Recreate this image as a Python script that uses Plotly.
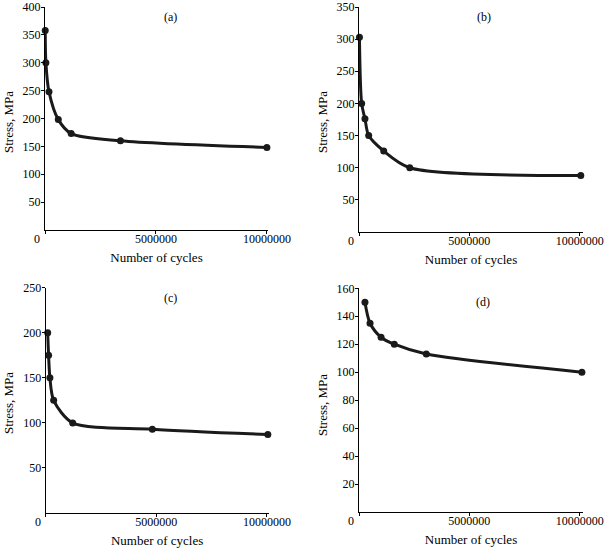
import plotly.graph_objects as go
from plotly.subplots import make_subplots

# Data
cycles_a = [10000, 40000, 180000, 600000, 1180000, 3400000, 10000000]
stress_a = [358, 300, 248, 198, 173, 160, 148]

cycles_b = [20000, 120000, 270000, 440000, 1120000, 2300000, 10050000]
stress_b = [303, 200, 176, 150, 126, 100, 88]

cycles_c = [90000, 130000, 190000, 360000, 1220000, 4820000, 10040000]
stress_c = [200, 175, 150, 125, 100, 93, 87]

cycles_d = [270000, 500000, 1000000, 1600000, 3050000, 10100000]
stress_d = [150, 135, 125, 120, 113, 100]

panel_labels = ["(a)", "(b)", "(c)", "(d)"]
x_ticks = [0, 5000000, 10000000]
x_tick_text = ["", "5000000", "10000000"]  # the "0" is drawn at the corner below
y_ticks = [
    [50, 100, 150, 200, 250, 300, 350, 400],
    [50, 100, 150, 200, 250, 300, 350],
    [50, 100, 150, 200, 250],
    [20, 40, 60, 80, 100, 120, 140, 160],
]
y_ranges = [[0, 400], [0, 350], [0, 250], [0, 160]]

W, H = 604, 548
FONT = "Liberation Serif"

fig = make_subplots(rows=2, cols=2)

series = [(cycles_a, stress_a), (cycles_b, stress_b), (cycles_c, stress_c), (cycles_d, stress_d)]
cells = [(1, 1), (1, 2), (2, 1), (2, 2)]

for (xs, ys), (r, c) in zip(series, cells):
    fig.add_trace(go.Scatter(
        x=xs, y=ys,
        mode="lines+markers",
        line=dict(color="#1a1a1a", width=3, shape="spline", smoothing=0.8),
        marker=dict(color="#1a1a1a", size=7),
        cliponaxis=False,
        showlegend=False,
    ), row=r, col=c)

# pixel boxes of each plot area (left, right, top, bottom)
boxes = [(45, 268, 7, 230), (359, 583, 7, 232), (45.7, 268.5, 287.7, 513), (359, 583, 288.3, 512)]
x_max = [10.05e6, 10.15e6, 10.07e6, 10.15e6]
label_pos = [(170, 17), (484, 17), (170, 298), (483, 302)]
ytitle_pos = [(8, 122), (322, 122), (8, 403), (322, 405)]

for i, (l, rgt, t, b) in enumerate(boxes):
    n = "" if i == 0 else str(i + 1)
    fig.layout["xaxis" + n].update(
        domain=[l / W, rgt / W],
        range=[0, x_max[i]],
        tickvals=x_ticks, ticktext=x_tick_text,
        showgrid=False, zeroline=False, automargin=False,
        showline=True, linecolor="black", linewidth=1,
        ticks="outside", ticklen=3, tickcolor="black",
        ticklabelstandoff=-5,
        tickfont=dict(family=FONT, size=12, color="black"),
        title=dict(text="Number of cycles", standoff=7,
                   font=dict(family=FONT, size=13, color="black")),
    )
    fig.layout["yaxis" + n].update(
        domain=[1 - b / H, 1 - t / H],
        range=y_ranges[i],
        tickvals=y_ticks[i],
        showgrid=False, zeroline=False, automargin=False,
        showline=True, linecolor="black", linewidth=1,
        ticks="outside", ticklen=3, tickcolor="black",
        ticklabelstandoff=-2,
        tickfont=dict(family=FONT, size=12, color="black"),
    )
    # y title
    tx, ty = ytitle_pos[i]
    fig.add_annotation(
        text="Stress, MPa", textangle=-90,
        xref="paper", yref="paper",
        x=tx / W, y=1 - ty / H,
        xanchor="center", yanchor="middle",
        showarrow=False,
        font=dict(family=FONT, size=13, color="black"),
    )
    # origin label
    fig.add_annotation(
        text="0",
        xref=("x" + n + " domain"), yref=("y" + n + " domain"),
        x=0, y=0, xshift=-8, yshift=-9,
        xanchor="center", yanchor="middle",
        showarrow=False,
        font=dict(family=FONT, size=12, color="black"),
    )
    lx, ly = label_pos[i]
    fig.add_annotation(
        text=panel_labels[i],
        xref="paper", yref="paper",
        x=lx / W, y=1 - ly / H,
        xanchor="center", yanchor="middle",
        showarrow=False,
        font=dict(family=FONT, size=12, color="black"),
    )

fig.update_layout(
    width=W, height=H,
    margin=dict(l=0, r=0, t=0, b=0),
    paper_bgcolor="white",
    plot_bgcolor="white",
)

# drop the default page margin so the figure sits in the corner
fig.write_html("out.html", config={"displayModeBar": False},
               post_script="document.body.style.margin='0';")
